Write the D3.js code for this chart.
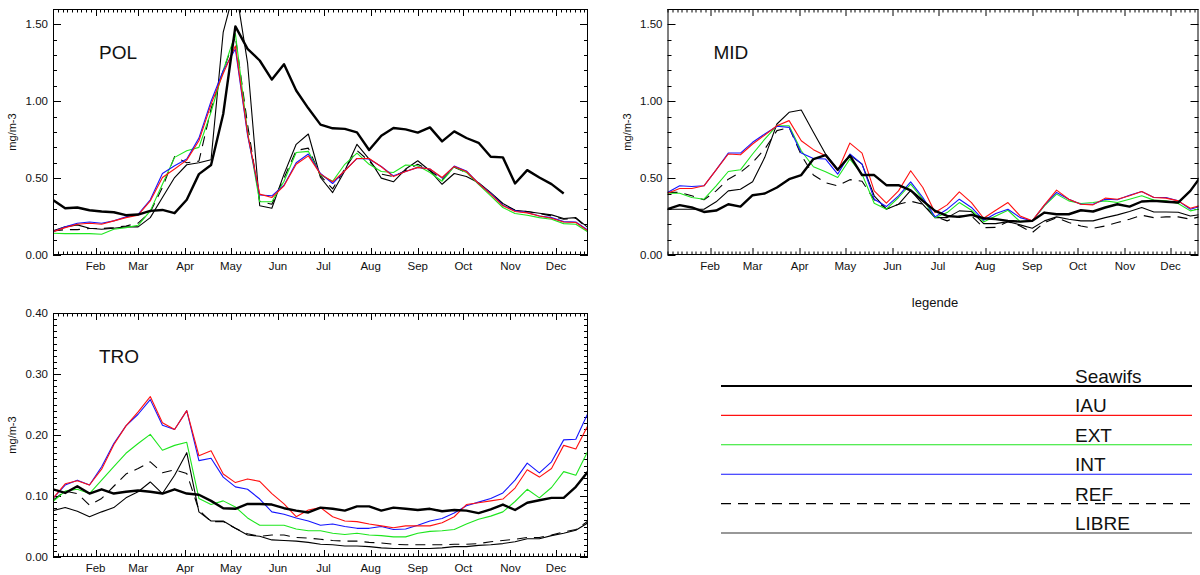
<!DOCTYPE html>
<html>
<head>
<meta charset="utf-8">
<script src="https://cdn.jsdelivr.net/npm/d3@7"></script>
<style>
  body { margin: 0; background: #fff; }
  text { font-family: "Liberation Sans", Arial, sans-serif; fill: #111; }
</style>
</head>
<body>
<svg id="chart" width="1200" height="575"></svg>
<script>

// 8-day composites, 45 per year
var nPoints = 45;
var monthNames = ["Feb", "Mar", "Apr", "May", "Jun", "Jul", "Aug", "Sep", "Oct", "Nov", "Dec"];
var monthStarts = [32, 60, 91, 121, 152, 182, 213, 244, 274, 305, 335];
var monthBounds = [1, 32, 60, 91, 121, 152, 182, 213, 244, 274, 305, 335, 366];

var seriesNames = ["Seawifs", "IAU", "EXT", "INT", "REF", "LIBRE"];

// POL
var seawifsPOL = [0.357,0.304,0.309,0.291,0.283,0.278,0.259,0.263,0.287,0.293,0.272,0.359,0.526,0.585,0.917,1.487,1.341,1.265,1.141,1.241,1.07,0.954,0.848,0.824,0.82,0.798,0.683,0.776,0.826,0.817,0.796,0.83,0.739,0.804,0.761,0.73,0.639,0.635,0.465,0.552,0.504,0.461,0.4,null,null];
var iauPOL = [0.152,0.178,0.2,0.207,0.2,0.222,0.243,0.259,0.352,0.504,0.559,0.617,0.743,0.98,1.18,1.36,0.79,0.396,0.374,0.45,0.59,0.645,0.526,0.476,0.548,0.628,0.628,0.574,0.51,0.543,0.57,0.559,0.504,0.576,0.543,0.465,0.396,0.32,0.283,0.274,0.254,0.239,0.215,0.211,0.157];
var extPOL = [0.141,0.139,0.139,0.139,0.135,0.167,0.178,0.193,0.287,0.46,0.635,0.678,0.7,0.93,1.2,1.44,0.8,0.346,0.346,0.48,0.667,0.674,0.52,0.48,0.59,0.663,0.59,0.543,0.537,0.585,0.58,0.537,0.48,0.574,0.537,0.46,0.385,0.309,0.27,0.259,0.243,0.233,0.204,0.2,0.15];
var intPOL = [0.152,0.183,0.207,0.215,0.207,0.222,0.248,0.265,0.359,0.53,0.58,0.624,0.76,1.0,1.2,1.34,0.78,0.39,0.385,0.454,0.6,0.657,0.53,0.465,0.548,0.628,0.624,0.576,0.515,0.543,0.57,0.559,0.5,0.578,0.547,0.465,0.4,0.324,0.287,0.276,0.254,0.243,0.217,0.215,0.161];
var refPOL = [0.157,0.165,0.165,0.172,0.172,0.178,0.189,0.207,0.28,0.44,0.64,0.6,0.61,0.95,1.2,1.42,0.85,0.35,0.33,0.5,0.68,0.695,0.515,0.43,0.56,0.68,0.61,0.526,0.51,0.55,0.59,0.55,0.49,0.57,0.537,0.465,0.402,0.33,0.291,0.283,0.27,0.254,0.233,0.239,0.172];
var librePOL = [0.157,0.183,0.196,0.174,0.167,0.174,0.183,0.183,0.243,0.374,0.504,0.587,0.6,0.62,1.45,1.75,1.25,0.32,0.304,0.526,0.72,0.787,0.504,0.406,0.548,0.72,0.624,0.5,0.476,0.559,0.613,0.548,0.46,0.53,0.51,0.47,0.406,0.335,0.291,0.283,0.272,0.261,0.237,0.243,0.178];

// MID
var seawifsMID = [0.298,0.324,0.309,0.28,0.289,0.33,0.315,0.389,0.4,0.439,0.493,0.52,0.624,0.65,0.554,0.646,0.52,0.52,0.454,0.454,0.42,0.352,0.287,0.254,0.248,0.261,0.239,0.233,0.222,0.217,0.222,0.276,0.265,0.265,0.291,0.283,0.309,0.33,0.315,0.348,0.352,0.346,0.341,0.417,0.526];
var iauMID = [0.402,0.433,0.433,0.45,0.554,0.657,0.652,0.722,0.78,0.841,0.874,0.743,0.685,0.646,0.548,0.728,0.663,0.417,0.337,0.417,0.548,0.439,0.276,0.326,0.411,0.341,0.239,0.291,0.341,0.254,0.222,0.326,0.422,0.363,0.33,0.326,0.37,0.363,0.385,0.413,0.374,0.37,0.352,0.304,0.326];
var extMID = [0.402,0.402,0.374,0.363,0.45,0.543,0.554,0.657,0.754,0.841,0.841,0.678,0.574,0.541,0.504,0.624,0.526,0.337,0.298,0.374,0.461,0.363,0.243,0.276,0.341,0.291,0.215,0.254,0.291,0.217,0.222,0.32,0.396,0.352,0.335,0.341,0.352,0.341,0.363,0.385,0.357,0.352,0.335,0.287,0.304];
var intMID = [0.407,0.45,0.446,0.45,0.554,0.663,0.663,0.733,0.787,0.837,0.83,0.663,0.628,0.624,0.526,0.657,0.591,0.363,0.315,0.385,0.476,0.374,0.248,0.298,0.363,0.309,0.226,0.27,0.298,0.243,0.222,0.324,0.407,0.363,0.33,0.33,0.363,0.359,0.389,0.413,0.374,0.374,0.352,0.298,0.32];
var refMID = [0.407,0.407,0.385,0.359,0.417,0.493,0.537,0.602,0.689,0.809,0.83,0.65,0.52,0.47,0.45,0.49,0.48,0.36,0.3,0.33,0.35,0.33,0.25,0.222,0.254,0.254,0.178,0.18,0.217,0.189,0.146,0.211,0.243,0.211,0.189,0.174,0.189,0.211,0.233,0.259,0.243,0.248,0.248,0.233,0.254];
var libreMID = [0.298,0.298,0.298,0.298,0.346,0.417,0.428,0.476,0.635,0.852,0.928,0.943,0.798,0.657,0.554,0.65,0.591,0.385,0.298,0.33,0.42,0.33,0.243,0.243,0.287,0.283,0.204,0.204,0.217,0.196,0.174,0.222,0.248,0.233,0.222,0.222,0.243,0.261,0.283,0.309,0.28,0.28,0.278,0.254,0.265];

// TRO
var seawifsTRO = [0.111,0.105,0.116,0.104,0.111,0.104,0.107,0.109,0.107,0.104,0.111,0.104,0.102,0.092,0.08,0.079,0.087,0.087,0.086,0.08,0.076,0.073,0.081,0.079,0.076,0.083,0.083,0.076,0.081,0.079,0.077,0.079,0.075,0.077,0.076,0.072,0.078,0.086,0.077,0.089,0.093,0.097,0.097,0.115,0.14];
var iauTRO = [0.096,0.12,0.125,0.118,0.144,0.184,0.215,0.238,0.263,0.22,0.209,0.24,0.166,0.174,0.136,0.122,0.128,0.124,0.104,0.087,0.066,0.077,0.081,0.066,0.059,0.058,0.054,0.051,0.048,0.051,0.051,0.051,0.056,0.066,0.086,0.089,0.092,0.095,0.113,0.143,0.131,0.145,0.183,0.177,0.216];
var extTRO = [0.091,0.108,0.111,0.104,0.126,0.148,0.17,0.186,0.201,0.175,0.183,0.188,0.096,0.086,0.092,0.082,0.064,0.052,0.052,0.052,0.046,0.043,0.043,0.039,0.037,0.039,0.036,0.035,0.033,0.033,0.039,0.042,0.043,0.045,0.054,0.062,0.067,0.074,0.091,0.111,0.097,0.114,0.14,0.134,0.174];
var intTRO = [0.096,0.118,0.126,0.118,0.148,0.186,0.215,0.234,0.258,0.216,0.209,0.24,0.158,0.162,0.131,0.115,0.111,0.095,0.074,0.07,0.064,0.059,0.052,0.054,0.05,0.047,0.047,0.05,0.045,0.046,0.052,0.059,0.063,0.072,0.084,0.09,0.096,0.105,0.126,0.154,0.138,0.156,0.192,0.193,0.236];
var refTRO = [0.093,0.108,0.104,0.085,0.096,0.116,0.136,0.145,0.156,0.138,0.143,0.137,0.077,0.058,0.058,0.047,0.038,0.034,0.036,0.036,0.032,0.031,0.029,0.027,0.026,0.026,0.024,0.023,0.021,0.02,0.02,0.02,0.02,0.021,0.021,0.022,0.025,0.027,0.029,0.032,0.032,0.036,0.041,0.045,0.059];
var libreTRO = [0.076,0.081,0.075,0.066,0.074,0.081,0.097,0.107,0.123,0.104,0.134,0.171,0.074,0.059,0.059,0.047,0.036,0.034,0.028,0.027,0.026,0.024,0.021,0.02,0.018,0.018,0.017,0.015,0.014,0.014,0.014,0.014,0.015,0.017,0.017,0.019,0.02,0.022,0.025,0.03,0.03,0.035,0.039,0.044,0.056];

var pointDays = d3.range(nPoints).map(function(i) { return 4 + 8 * i; });

var styles = {
  Seawifs: { color: "#000", width: 2.4, dash: null },
  IAU:     { color: "#ff1010", width: 1.1, dash: null },
  EXT:     { color: "#1ee61e", width: 1.1, dash: null },
  INT:     { color: "#1515ff", width: 1.1, dash: null },
  REF:     { color: "#000", width: 1.1, dash: "10,7" },
  LIBRE:   { color: "#000", width: 1.1, dash: null }
};
var drawOrder = ["LIBRE", "REF", "EXT", "INT", "IAU", "Seawifs"];

var panels = [
  { title: "POL", left: 53, top: 9, width: 535, height: 246, ymax: 1.6, major: 0.5, minor: 0.1,
    series: { Seawifs: seawifsPOL, IAU: iauPOL, EXT: extPOL, INT: intPOL, REF: refPOL, LIBRE: librePOL } },
  { title: "MID", left: 667.5, top: 9, width: 531, height: 246, ymax: 1.6, major: 0.5, minor: 0.1,
    series: { Seawifs: seawifsMID, IAU: iauMID, EXT: extMID, INT: intMID, REF: refMID, LIBRE: libreMID } },
  { title: "TRO", left: 53, top: 313, width: 535, height: 244, ymax: 0.4, major: 0.1, minor: 0.01,
    series: { Seawifs: seawifsTRO, IAU: iauTRO, EXT: extTRO, INT: intTRO, REF: refTRO, LIBRE: libreTRO } }
];

var svg = d3.select("#chart");
var fmt = d3.format(".2f");

// minor x ticks: every month split in 10
var minorDays = [];
for (var m = 0; m < monthBounds.length - 1; m++) {
  var a = monthBounds[m], b = monthBounds[m + 1];
  for (var k = 1; k < 10; k++) minorDays.push(a + (b - a) * k / 10);
}

panels.forEach(function(p, pi) {
  var x = d3.scaleLinear().domain([4, 356]).range([0, 535]);
  var y = d3.scaleLinear().domain([0, p.ymax]).range([p.height, 0]);

  var g = svg.append("g").attr("transform", "translate(" + p.left + "," + p.top + ")");

  g.append("clipPath").attr("id", "clip" + pi)
    .append("rect").attr("width", p.width).attr("height", p.height);

  var inside = function(d) { return x(d) >= 0 && x(d) <= p.width; };

  // x ticks (bottom and top, pointing inward)
  var ticks = g.append("g").attr("stroke", "#000").attr("stroke-width", 1);
  monthStarts.filter(inside).forEach(function(d) {
    var xx = Math.round(x(d)) + 0.5;
    ticks.append("line").attr("x1", xx).attr("x2", xx).attr("y1", p.height).attr("y2", p.height - 7);
    ticks.append("line").attr("x1", xx).attr("x2", xx).attr("y1", 0).attr("y2", 7);
  });
  minorDays.filter(inside).forEach(function(d) {
    var xx = Math.round(x(d)) + 0.5;
    ticks.append("line").attr("x1", xx).attr("x2", xx).attr("y1", p.height).attr("y2", p.height - 3.5);
    ticks.append("line").attr("x1", xx).attr("x2", xx).attr("y1", 0).attr("y2", 3.5);
  });

  // y ticks (left and right)
  var nMinor = Math.round(p.ymax / p.minor);
  d3.range(nMinor + 1).forEach(function(k) {
    var v = k * p.minor;
    var isMajor = Math.abs(v / p.major - Math.round(v / p.major)) < 1e-6;
    var len = isMajor ? 8 : 4;
    var yy = Math.round(y(v)) + 0.5;
    ticks.append("line").attr("x1", 0).attr("x2", len).attr("y1", yy).attr("y2", yy);
    ticks.append("line").attr("x1", p.width).attr("x2", p.width - len).attr("y1", yy).attr("y2", yy);
    if (isMajor) {
      g.append("text").attr("x", -5).attr("y", y(v)).attr("dy", "0.35em")
        .attr("text-anchor", "end").attr("font-size", "11.5px").text(fmt(v));
    }
  });

  // month labels
  monthStarts.forEach(function(d, i) {
    if (!inside(d)) return;
    g.append("text").attr("x", x(d)).attr("y", p.height + 15)
      .attr("text-anchor", "middle").attr("font-size", "11.5px").text(monthNames[i]);
  });

  // y axis title
  g.append("text")
    .attr("transform", "translate(" + (-37) + "," + (p.height / 2) + ") rotate(-90)")
    .attr("text-anchor", "middle").attr("font-size", "11px").text("mg/m-3");

  // panel title
  g.append("text").attr("x", 46).attr("y", 50)
    .attr("font-family", "DejaVu Sans").attr("font-size", "19px").text(p.title);

  // lines
  var line = d3.line()
    .defined(function(d) { return d != null; })
    .x(function(d, i) { return x(pointDays[i]); })
    .y(function(d) { return y(d); });

  var plot = g.append("g").attr("clip-path", "url(#clip" + pi + ")");
  drawOrder.forEach(function(name) {
    var s = styles[name];
    plot.append("path")
      .datum(p.series[name])
      .attr("d", line)
      .attr("fill", "none")
      .attr("stroke", s.color)
      .attr("stroke-width", s.width)
      .attr("stroke-dasharray", s.dash)
      .attr("stroke-linejoin", "round");
  });

  // frame
  g.append("rect").attr("x", 0.5).attr("y", 0.5)
    .attr("width", p.width - 1).attr("height", p.height - 1)
    .attr("fill", "none").attr("stroke", "#000").attr("stroke-width", 1);
});

// legend
svg.append("text").attr("x", 935).attr("y", 307).attr("text-anchor", "middle")
  .attr("font-size", "13px").text("legende");

var legendY = d3.scalePoint().domain(seriesNames).range([386, 533]);
var legendColors = { Seawifs: "#000", IAU: "#ff1010", EXT: "#1ee61e", INT: "#1515ff", REF: "#000", LIBRE: "#333" };
var lg = svg.append("g");
seriesNames.forEach(function(name) {
  var s = styles[name];
  var ly = legendY(name);
  lg.append("line").attr("x1", 721).attr("x2", 1192).attr("y1", ly).attr("y2", ly)
    .attr("stroke", legendColors[name])
    .attr("stroke-width", name === "Seawifs" ? 2 : 1.1)
    .attr("stroke-dasharray", s.dash);
  lg.append("text").attr("x", 1075).attr("y", ly - 3)
    .attr("font-family", "DejaVu Sans").attr("font-size", "19px").text(name);
});

</script>
</body>
</html>
